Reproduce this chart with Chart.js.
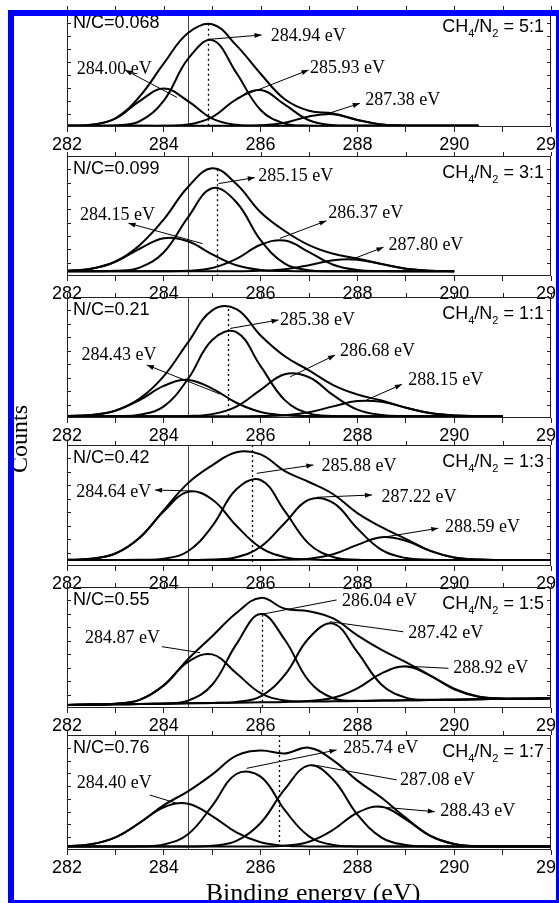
<!DOCTYPE html>
<html>
<head>
<meta charset="utf-8">
<script src="https://cdn.jsdelivr.net/npm/chart.js@4.4.1/dist/chart.umd.min.js"></script>
<style>
  body { margin: 0; background: #fff; width: 559px; height: 903px; overflow: hidden; position: relative; }
  canvas.panel { position: absolute; left: 0; }
  #frame { position: absolute; left: 8px; top: 10px; width: 554px; height: 896px; border: 6px solid #0000ff;
           box-sizing: border-box; z-index: 10; pointer-events: none; }
  #ylab { position: absolute; left: -29px; top: 424px; width: 100px; height: 30px; line-height: 30px; text-align: center;
          font: 24px "Liberation Serif", serif; transform: rotate(-90deg); color: #000; z-index: 5; }
  #xlab { position: absolute; left: 163px; top: 878px; width: 300px; line-height: 26px; text-align: center;
          font: 26px "Liberation Serif", serif; color: #000; z-index: 5; }
</style>
</head>
<body>
<div id="ylab">Counts</div>
<div id="xlab">Binding energy (eV)</div>
<div id="frame"></div>
<script>
// binding energy grid shared by all curves (eV)
const ENERGY = [282, 282.5, 283, 283.5, 284, 284.5, 285, 285.5, 286, 286.5, 287, 287.5, 288, 288.5, 289, 289.5, 290, 290.5, 291, 291.5, 292];
const TICKS = [282, 284, 286, 288, 290, 292];

const NC_LABELS = ['N/C=0.068', 'N/C=0.099', 'N/C=0.21', 'N/C=0.42', 'N/C=0.55', 'N/C=0.76'];
const RATIOS = ['5:1', '3:1', '1:1', '1:3', '1:5', '1:7'];
const REF_LINE = 284.5;
const MAIN_PEAK = [284.92, 285.1, 285.33, 285.82, 286.02, 286.37];
const MAIN_PEAK_TOP = [86, 89, 90, 100, 77, 100];

// CH4/N2 = 5:1
const P1_A = [1, 1.8, 7, 21.6, 32, 21.6, 7, 1.8, 1, 1, 1, 1, 1, 1, 1, 1, 1, 1, null, null, null];
const P1_B = [1, 1, 1.3, 4.8, 22, 56.7, 72.4, 45.1, 14.2, 2.9, 1.1, 1, 1, 1, 1, 1, 1, 1, null, null, null];
const P1_C = [1, 1, 1, 1, 1, 2, 8.3, 23.1, 30.8, 18.6, 5.6, 1.5, 1, 1, 1, 1, 1, 1, null, null, null];
const P1_D = [1, 1, 1, 1, 1, 1, 1, 1, 1.4, 3.6, 8.8, 10.7, 5.9, 2, 1.1, 1, 1, 1, null, null, null];
const P1_ENV = [1, 1.8, 7.3, 25.4, 53, 78.3, 85.7, 68, 44.4, 23.1, 13.5, 11.2, 5.9, 2, 1.1, 1, 1, 1, null, null, null];

// CH4/N2 = 3:1
const P2_A = [4.3, 6.1, 11.8, 22.7, 31.4, 28.9, 18, 8.9, 5, 4.1, 4, 4, 4, 4, 4, 4, 4, null, null, null, null];
const P2_B = [4, 4, 4.3, 7, 19.8, 48.9, 73.1, 61.5, 29.8, 10.3, 4.8, 4, 4, 4, 4, 4, 4, null, null, null, null];
const P2_C = [4, 4, 4, 4, 4, 4.4, 6.6, 14.2, 26, 29.5, 19.9, 9.4, 5, 4.1, 4, 4, 4, null, null, null, null];
const P2_D = [4, 4, 4, 4, 4, 4, 4, 4, 4.3, 5.6, 9, 13.1, 13.6, 9.9, 6.1, 4.4, 4, null, null, null, null];
const P2_ENV = [4.3, 6.1, 12.1, 25.7, 47.2, 74.2, 89.7, 76.6, 53.1, 37.5, 25.7, 18.5, 14.6, 10, 6.1, 4.4, 4, null, null, null, null];

// CH4/N2 = 1:1
const P3_A = [1.6, 2.5, 6, 14.8, 26.5, 31.5, 24.3, 12.6, 4.9, 2.2, 1.6, 1.5, 1.5, 1.5, 1.5, 1.5, 1.5, 1.5, 1.5, null, null];
const P3_B = [1.5, 1.5, 1.6, 2.7, 9.6, 32.3, 64.5, 71, 42.9, 14.8, 3.8, 1.7, 1.5, 1.5, 1.5, 1.5, 1.5, 1.5, 1.5, null, null];
const P3_C = [1.5, 1.5, 1.5, 1.5, 1.5, 1.7, 3.2, 9.4, 23.3, 36.2, 33.7, 18.9, 6.9, 2.5, 1.6, 1.5, 1.5, 1.5, 1.5, null, null];
const P3_D = [1.5, 1.5, 1.5, 1.5, 1.5, 1.5, 1.5, 1.5, 1.6, 2.3, 4.8, 9.6, 14, 13.4, 8.5, 4.1, 2.1, 1.6, 1.5, null, null];
const P3_ENV = [1.6, 2.5, 6.1, 16, 34.6, 62.5, 89, 90, 68.2, 51, 39.4, 27.2, 19.4, 14.4, 8.6, 4.1, 2.1, 1.6, 1.5, null, null];

// CH4/N2 = 1:3
const P4_A = [5.1, 6, 10.3, 23.3, 45.2, 61.3, 55, 33.3, 15.2, 7.3, 5.3, 5, 5, 5, 5, 5, 5, 5, 5, 5, 5];
const P4_B = [5, 5, 5, 5.1, 6, 12.2, 32.9, 63.4, 71.1, 45.4, 18.3, 7.4, 5.2, 5, 5, 5, 5, 5, 5, 5, 5];
const P4_C = [5, 5, 5, 5, 5, 5, 5.3, 7.3, 15.9, 35.6, 54.8, 52.2, 31, 13.3, 6.6, 5.2, 5, 5, 5, 5, 5];
const P4_D = [5, 5, 5, 5, 5, 5, 5, 5, 5, 5.1, 6, 9.7, 17.5, 23.8, 20.8, 12.5, 7, 5.3, 5, 5, 5];
const P4_ENV = [5.1, 6, 10.3, 23.4, 46.2, 68.5, 83.2, 94, 92.2, 78.4, 69.4, 59.3, 43.7, 32.1, 22.4, 12.7, 7, 5.3, 5, 5, 5];

// CH4/N2 = 1:5
const P5_A = [2.5, 2.8, 3.5, 6.7, 18.7, 38.1, 44.3, 28.7, 12.3, 6.2, 5.4, 5.5, 5.8, 6.1, 6.4, 6.6, 6.9, 7.2, 7.5, 7.7, 8];
const P5_B = [2.5, 2.8, 3.1, 3.3, 3.7, 6.1, 19.2, 52.8, 77.7, 56.4, 22.2, 8.1, 6, 6.1, 6.4, 6.6, 6.9, 7.2, 7.5, 7.7, 8];
const P5_C = [2.5, 2.8, 3.1, 3.3, 3.6, 3.9, 4.2, 5, 9.6, 27.3, 57.9, 69.7, 46.2, 19.3, 8.6, 6.8, 6.9, 7.2, 7.5, 7.7, 8];
const P5_D = [2.5, 2.8, 3.1, 3.3, 3.6, 3.9, 4.2, 4.4, 4.7, 5, 5.8, 8.4, 16.3, 28.6, 34.3, 26.8, 15.4, 9.3, 7.8, 7.7, 8];
const P5_ENV = [2.5, 2.8, 3.5, 6.7, 18.8, 40.3, 59.3, 78.5, 91, 82, 80, 74, 60, 48, 38, 27, 16, 9.5, 7.8, 7.7, 8];

// CH4/N2 = 1:7
const P6_A = [3.3, 5, 11, 23.5, 37.2, 40.3, 29.5, 15.3, 6.7, 3.7, 3.1, 3, 3, 3, 3, 3, 3, 3, 3, 3, 3];
const P6_B = [3, 3, 3, 3.2, 4.8, 13.7, 38.4, 66.1, 63.8, 34.6, 11.9, 4.4, 3.1, 3, 3, 3, 3, 3, 3, 3, 3];
const P6_C = [3, 3, 3, 3, 3, 3, 3.7, 7.9, 23.5, 52.9, 73.6, 61.1, 30.8, 10.8, 4.3, 3.1, 3, 3, 3, 3, 3];
const P6_D = [3, 3, 3, 3, 3, 3, 3, 3, 3.1, 3.7, 7.2, 17.6, 32.4, 37.6, 26.7, 12.4, 5.2, 3.3, 3, 3, 3];
const P6_ENV = [3.3, 5, 11, 23.7, 39, 51, 65.6, 82, 86.5, 84, 89, 78, 60.3, 45.4, 28, 12.5, 5.2, 3.3, 3, 3, 3];

// peak labels: text at (tx, ty), leader from (x1, y1) on the curve to (x2, y2)
const P1_NOTES = [
  { t: '284.94 eV', tx: 286.21, ty: 72, x1: 284.92, y1: 73, x2: 286.02, y2: 76.7, head: true },
  { t: '284.00 eV', tx: 282.2, ty: 44, x1: 284.27, y1: 24.7, x2: 283.2, y2: 47.5, head: true },
  { t: '285.93 eV', tx: 287.02, ty: 44.7, x1: 285.5, y1: 23.9, x2: 286.99, y2: 47.5, head: true },
  { t: '287.38 eV', tx: 288.16, ty: 18.3, x1: 287.3, y1: 10, x2: 288.05, y2: 19.7, head: true }
];
const P2_NOTES = [
  { t: '285.15 eV', tx: 285.95, ty: 79, x1: 285.13, y1: 77, x2: 285.88, y2: 82, head: true },
  { t: '284.15 eV', tx: 282.27, ty: 46.7, x1: 284.8, y1: 27, x2: 283.27, y2: 44, head: true },
  { t: '286.37 eV', tx: 287.4, ty: 48, x1: 286.4, y1: 31.4, x2: 287.36, y2: 46, head: true },
  { t: '287.80 eV', tx: 288.64, ty: 22, x1: 287.85, y1: 13.3, x2: 288.54, y2: 24, head: true }
];
const P3_NOTES = [
  { t: '285.38 eV', tx: 286.4, ty: 77, x1: 285.37, y1: 74, x2: 286.37, y2: 81, head: true },
  { t: '284.43 eV', tx: 282.3, ty: 48, x1: 285.16, y1: 19.8, x2: 283.65, y2: 43.8, head: true },
  { t: '286.68 eV', tx: 287.64, ty: 51, x1: 286.61, y1: 34, x2: 287.54, y2: 52, head: true },
  { t: '288.15 eV', tx: 289.05, ty: 27.3, x1: 288.19, y1: 14.9, x2: 288.92, y2: 27.8, head: true }
];
const P4_NOTES = [
  { t: '284.64 eV', tx: 282.19, ty: 57.3, x1: 284.58, y1: 62, x2: 283.82, y2: 62.8, head: true },
  { t: '285.88 eV', tx: 287.26, ty: 78.8, x1: 285.92, y1: 76.6, x2: 287.09, y2: 83.5, head: true },
  { t: '287.22 eV', tx: 288.5, ty: 53, x1: 287.16, y1: 56.8, x2: 288.3, y2: 58.7, head: true },
  { t: '288.59 eV', tx: 289.81, ty: 28.3, x1: 288.6, y1: 24.2, x2: 289.67, y2: 31.2, head: true }
];
const P5_NOTES = [
  { t: '286.04 eV', tx: 287.68, ty: 84.3, x1: 286.02, y1: 77.4, x2: 287.57, y2: 89.3, head: false },
  { t: '284.87 eV', tx: 282.37, ty: 53.5, x1: 284.75, y1: 45.7, x2: 283.96, y2: 50.7, head: false },
  { t: '287.42 eV', tx: 289.05, ty: 57.6, x1: 287.43, y1: 71.3, x2: 288.95, y2: 63, head: false },
  { t: '288.92 eV', tx: 289.98, ty: 28.7, x1: 288.95, y1: 34.7, x2: 289.88, y2: 32.8, head: false }
];
const P6_NOTES = [
  { t: '285.74 eV', tx: 287.71, ty: 84, x1: 285.71, y1: 71, x2: 287.57, y2: 87, head: true },
  { t: '284.40 eV', tx: 282.2, ty: 53.6, x1: 284.27, y1: 40.6, x2: 283.71, y2: 47.8, head: false },
  { t: '287.08 eV', tx: 288.88, ty: 56.5, x1: 287.09, y1: 74, x2: 288.81, y2: 61, head: false },
  { t: '288.43 eV', tx: 289.71, ty: 29.6, x1: 288.4, y1: 37.7, x2: 289.6, y2: 33.3, head: true }
];

const PANELS = [
  { comps: [P1_A, P1_B, P1_C, P1_D], env: P1_ENV, notes: P1_NOTES },
  { comps: [P2_A, P2_B, P2_C, P2_D], env: P2_ENV, notes: P2_NOTES },
  { comps: [P3_A, P3_B, P3_C, P3_D], env: P3_ENV, notes: P3_NOTES },
  { comps: [P4_A, P4_B, P4_C, P4_D], env: P4_ENV, notes: P4_NOTES },
  { comps: [P5_A, P5_B, P5_C, P5_D], env: P5_ENV, notes: P5_NOTES },
  { comps: [P6_A, P6_B, P6_C, P6_D], env: P6_ENV, notes: P6_NOTES }
];

// page layout (pixels)
const PANEL_TOP = [10, 156, 297, 445, 587, 735];
const PANEL_BOTTOM = [127, 276, 418, 566, 708, 850];
const Y_MAX = [97.5, 100, 100, 100, 100, 100];

const SANS = '"Liberation Sans", Arial, sans-serif';
const SERIF = '"Liberation Serif", "Times New Roman", serif';

function series(vals) {
  return ENERGY.map((e, i) => ({ x: e, y: vals[i] }));
}

function drawArrow(ctx, x1, y1, x2, y2, head) {
  ctx.beginPath();
  ctx.moveTo(x1, y1);
  ctx.lineTo(x2, y2);
  ctx.stroke();
  if (!head) return;
  const a = Math.atan2(y2 - y1, x2 - x1);
  ctx.beginPath();
  ctx.moveTo(x2, y2);
  ctx.lineTo(x2 - 7 * Math.cos(a) + 2.5 * Math.sin(a), y2 - 7 * Math.sin(a) - 2.5 * Math.cos(a));
  ctx.lineTo(x2 - 7 * Math.cos(a) - 2.5 * Math.sin(a), y2 - 7 * Math.sin(a) + 2.5 * Math.cos(a));
  ctx.closePath();
  ctx.fill();
}

const decor = {
  id: 'decor',
  beforeDatasetsDraw(chart, args, o) {
    const { ctx, chartArea: a, scales: { x, y } } = chart;
    ctx.save();
    const rx = Math.round(x.getPixelForValue(o.refLine)) + 0.5;
    ctx.strokeStyle = '#444';
    ctx.lineWidth = 1;
    ctx.beginPath(); ctx.moveTo(rx, a.top); ctx.lineTo(rx, a.bottom); ctx.stroke();
    const px = Math.round(x.getPixelForValue(o.peak)) + 0.5;
    ctx.setLineDash([2, 3]);
    ctx.strokeStyle = '#000';
    ctx.lineWidth = 1.3;
    ctx.beginPath();
    ctx.moveTo(px, Math.max(a.top, y.getPixelForValue(o.peakTop)));
    ctx.lineTo(px, a.bottom);
    ctx.stroke();
    ctx.restore();
  },
  afterDatasetsDraw(chart, args, o) {
    const { ctx, chartArea: a, scales: { x, y } } = chart;
    ctx.save();
    // frame
    ctx.strokeStyle = '#222';
    ctx.lineWidth = 1;
    ctx.strokeRect(a.left + 0.5, a.top + 0.5, a.width - 1, a.height - 1);
    ctx.beginPath();
    x.ticks.forEach(t => {
      const tx = Math.round(x.getPixelForValue(t.value)) + 0.5;
      ctx.moveTo(tx, a.top); ctx.lineTo(tx, a.top - 4);
    });
    for (let i = 1; i < 9; i++) {
      const ty = Math.round(a.top + i * a.height / 9) + 0.5;
      ctx.moveTo(a.left, ty); ctx.lineTo(a.left + 4, ty);
      ctx.moveTo(a.right, ty); ctx.lineTo(a.right - 4, ty);
    }
    ctx.stroke();

    // peak labels
    ctx.fillStyle = '#000';
    ctx.strokeStyle = '#000';
    ctx.lineWidth = 1;
    ctx.font = '18px ' + SERIF;
    ctx.textBaseline = 'alphabetic';
    o.notes.forEach(n => {
      drawArrow(ctx, x.getPixelForValue(n.x1), y.getPixelForValue(n.y1),
        x.getPixelForValue(n.x2), y.getPixelForValue(n.y2), n.head);
      ctx.fillText(n.t, x.getPixelForValue(n.tx), y.getPixelForValue(n.ty));
    });

    // N/C and gas ratio
    ctx.font = '18px ' + SANS;
    ctx.fillText(o.nc, a.left + 6, a.top + 18);
    const parts = [['CH', 18, 0], ['4', 11, 5], ['/N', 18, 0], ['2', 11, 5], [' = ' + o.ratio, 18, 0]];
    let w = 0;
    parts.forEach(p => { ctx.font = p[1] + 'px ' + SANS; w += ctx.measureText(p[0]).width; });
    let cx = a.right - 7 - w;
    parts.forEach(p => {
      ctx.font = p[1] + 'px ' + SANS;
      ctx.fillText(p[0], cx, a.top + 22 + p[2]);
      cx += ctx.measureText(p[0]).width;
    });
    ctx.restore();
  }
};

function buildPanel(i) {
  const p = PANELS[i];
  const h = PANEL_BOTTOM[i] - PANEL_TOP[i];
  const canvas = document.createElement('canvas');
  canvas.className = 'panel';
  canvas.width = 580;
  canvas.height = 6 + h + 28;
  canvas.style.top = (PANEL_TOP[i] - 6) + 'px';
  document.body.appendChild(canvas);

  const line = vals => ({
    data: series(vals),
    borderColor: '#000',
    borderWidth: 2,
    pointRadius: 0,
    fill: false,
    tension: 0.4
  });

  new Chart(canvas.getContext('2d'), {
    type: 'line',
    data: { datasets: p.comps.map(line).concat([line(p.env)]) },
    options: {
      responsive: false,
      animation: false,
      events: [],
      layout: { padding: { left: 67, right: 29, top: 6, bottom: 0 } },
      plugins: {
        legend: { display: false },
        tooltip: { enabled: false },
        decor: {
          refLine: REF_LINE, peak: MAIN_PEAK[i], peakTop: MAIN_PEAK_TOP[i],
          notes: p.notes, nc: NC_LABELS[i], ratio: RATIOS[i]
        }
      },
      scales: {
        x: {
          type: 'linear', min: 282, max: 292,
          ticks: {
            stepSize: 1, autoSkip: false, maxRotation: 0, padding: 2, color: '#000',
            font: { family: SANS, size: 18 },
            callback: v => TICKS.includes(v) ? String(v) : ''
          },
          grid: { display: true, drawOnChartArea: false, drawTicks: true, tickLength: 5, color: '#222' },
          border: { display: false },
          afterFit: s => { s.height = 28; }
        },
        y: { display: false, min: 0, max: Y_MAX[i] }
      }
    },
    plugins: [decor]
  });
}

for (let i = 0; i < PANELS.length; i++) buildPanel(i);
</script>
</body>
</html>
